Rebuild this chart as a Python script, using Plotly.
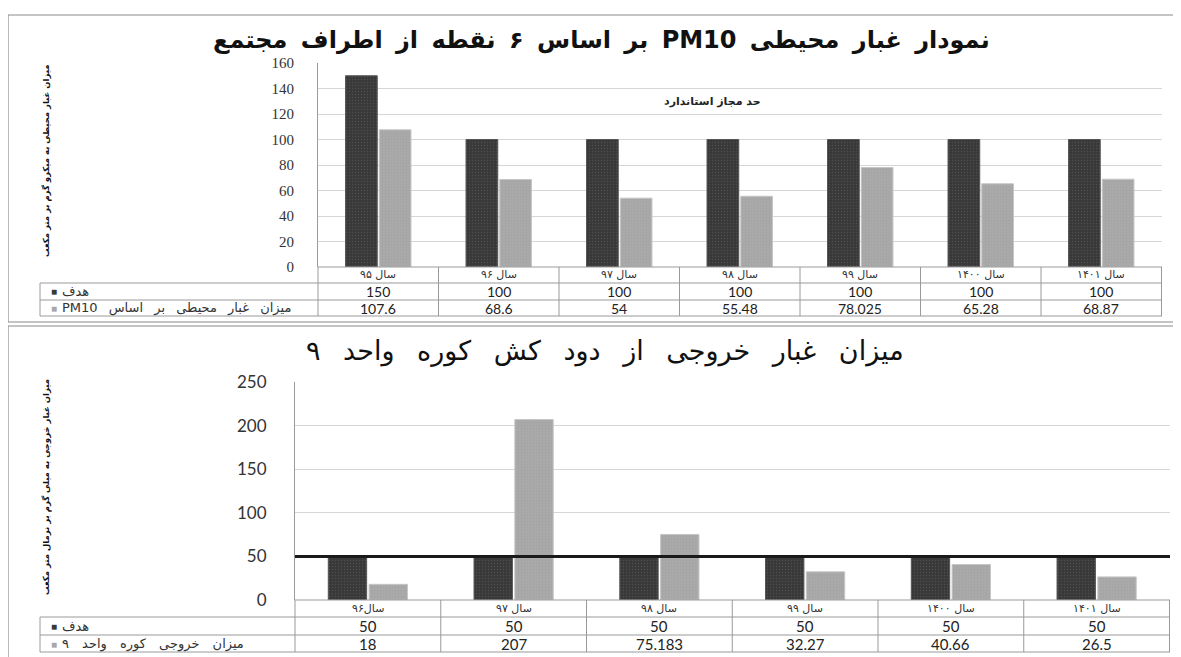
import plotly.graph_objects as go

W, H = 1181, 657
OFF = 8  # default page body margin
RLE, PDF = "\u202b", "\u202c"

# ---------------- data: top chart ----------------
top_title = "نمودار غبار محیطی PM10 بر اساس ۶ نقطه از اطراف مجتمع"
top_years = ["سال ۹۵", "سال ۹۶", "سال ۹۷", "سال ۹۸", "سال ۹۹", "سال ۱۴۰۰", "سال ۱۴۰۱"]
top_target = [150, 100, 100, 100, 100, 100, 100]
top_pm10 = [107.6, 68.6, 54, 55.48, 78.025, 65.28, 68.87]
top_target_name = "هدف"
top_pm10_name = "میزان غبار محیطی بر اساس PM10"
top_ytitle = "میزان غبار محیطی به میکرو گرم بر متر مکعب"
top_note = "حد مجاز استاندارد"
top_note_value = 130
top_yticks = [0, 20, 40, 60, 80, 100, 120, 140, 160]

# ---------------- data: bottom chart ----------------
bot_title = "میزان غبار خروجی از دود کش کوره واحد ۹"
bot_years = ["سال۹۶", "سال ۹۷", "سال ۹۸", "سال ۹۹", "سال ۱۴۰۰", "سال ۱۴۰۱"]
bot_target = [50, 50, 50, 50, 50, 50]
bot_unit9 = [18, 207, 75.183, 32.27, 40.66, 26.5]
bot_target_name = "هدف"
bot_unit9_name = "میزان خروجی کوره واحد ۹"
bot_ytitle = "میزان غبار خروجی به میلی گرم بر نرمال متر مکعب"
bot_yticks = [0, 50, 100, 150, 200, 250]

DARK = "#393939"
LIGHT = "#a9a9a9"
GRID = "#d6d6d6"
LINE = "#9a9a9a"
AR_FONT = "DejaVu Sans"


def px(x):
    return (x - OFF) / W


def py(y):
    return 1 - (y - OFF) / H


def rtl(s, spacing=0):
    t = RLE + s + PDF
    if spacing:
        t = '<span style="word-spacing:%dpx">%s</span>' % (spacing, t)
    return t


def fmt(v):
    return str(v)


def bar_marker(color, edge, grain):
    return dict(color=color, line=dict(color=edge, width=1),
                pattern=dict(shape=".", size=3, solidity=0.15, fgcolor=grain))


fig = go.Figure()
fig.add_trace(go.Bar(x=top_years, y=top_target, name=top_target_name, xaxis="x", yaxis="y",
                     marker=bar_marker(DARK, "#555", "#666"), showlegend=False))
fig.add_trace(go.Bar(x=top_years, y=top_pm10, name=top_pm10_name, xaxis="x", yaxis="y",
                     marker=bar_marker(LIGHT, "#c6c6c6", "#999"), showlegend=False))
fig.add_trace(go.Bar(x=bot_years, y=bot_target, name=bot_target_name, xaxis="x2", yaxis="y2",
                     marker=bar_marker(DARK, "#555", "#666"), showlegend=False))
fig.add_trace(go.Bar(x=bot_years, y=bot_unit9, name=bot_unit9_name, xaxis="x2", yaxis="y2",
                     marker=bar_marker(LIGHT, "#c6c6c6", "#999"), showlegend=False))

# ---------------- geometry (pixels in the screenshot) ----------------
T = dict(x0=318, x1=1162, ytop=63, ybase=267, rows=[283, 300, 316], left=40)
B = dict(x0=295, x1=1170, ytop=382, ybase=600, rows=[617, 635, 652], left=40)

fig.update_layout(
    width=W, height=H,
    margin=dict(l=0, r=0, t=0, b=0, autoexpand=False),
    paper_bgcolor="white", plot_bgcolor="white",
    barmode="group", bargap=0.44, bargroupgap=0.06,
    font=dict(family="Lato", color="#222"),
    xaxis=dict(domain=[px(T["x0"]), px(T["x1"])], anchor="y", showticklabels=False,
               showgrid=False, zeroline=False, showline=False, ticks="", automargin=False),
    yaxis=dict(domain=[py(T["ybase"]), py(T["ytop"])], anchor="x", range=[0, 160],
               tickvals=top_yticks, showgrid=True, gridcolor=GRID, zeroline=False,
               showline=True, linecolor=LINE, linewidth=1, ticks="", automargin=False,
               ticklabelstandoff=20,
               tickfont=dict(family="Liberation Serif", size=15, color="#333")),
    xaxis2=dict(domain=[px(B["x0"]), px(B["x1"])], anchor="y2", showticklabels=False,
                showgrid=False, zeroline=False, showline=False, ticks="", automargin=False),
    yaxis2=dict(domain=[py(B["ybase"]), py(B["ytop"])], anchor="x2", range=[0, 250],
                tickvals=bot_yticks, showgrid=True, gridcolor=GRID, zeroline=False,
                showline=True, linecolor=LINE, linewidth=1, ticks="", automargin=False,
                ticklabelstandoff=24,
                tickfont=dict(family="Lato", size=17, color="#333")),
)

shapes = []
ann = []


def hline(x0, x1, y, color=LINE, width=1):
    shapes.append(dict(type="line", xref="paper", yref="paper", x0=px(x0), x1=px(x1),
                       y0=py(y), y1=py(y), line=dict(color=color, width=width)))


def vline(x, y0, y1, color=LINE, width=1):
    shapes.append(dict(type="line", xref="paper", yref="paper", x0=px(x), x1=px(x),
                       y0=py(y0), y1=py(y1), line=dict(color=color, width=width)))


# frames
shapes.append(dict(type="rect", xref="paper", yref="paper", x0=px(8), x1=px(1176),
                   y0=py(322), y1=py(15), line=dict(color="#8a8a8a", width=1.2)))
shapes.append(dict(type="rect", xref="paper", yref="paper", x0=px(8), x1=px(1176),
                   y0=py(670), y1=py(326), line=dict(color="#8a8a8a", width=1.2)))


def table(cfg, xa, cats, s1, s2, name1, name2, fsize, sp2):
    r1, r2, r3 = cfg["rows"]
    hline(cfg["x0"], cfg["x1"], cfg["ybase"])
    for yy in (r1, r2, r3):
        hline(cfg["left"], cfg["x1"], yy)
    vline(cfg["left"], r1, r3)
    vline(cfg["x0"], cfg["ybase"], r3)
    for i in range(len(cats)):
        shapes.append(dict(type="line", xref=xa, yref="paper", x0=i + 0.5, x1=i + 0.5,
                           y0=py(cfg["ybase"]), y1=py(r3), line=dict(color=LINE, width=1)))
    c0 = (cfg["ybase"] + r1) / 2
    c1 = (r1 + r2) / 2
    c2 = (r2 + r3) / 2
    for i, c in enumerate(cats):
        ann.append(dict(x=c, y=py(c0), xref=xa, yref="paper", text=c, showarrow=False,
                        font=dict(family=AR_FONT, size=11, color="#333"), yanchor="middle"))
        ann.append(dict(x=c, y=py(c1), xref=xa, yref="paper", text=fmt(s1[i]), showarrow=False,
                        font=dict(family="Lato", size=fsize, color="#222"), yanchor="middle"))
        ann.append(dict(x=c, y=py(c2), xref=xa, yref="paper", text=fmt(s2[i]), showarrow=False,
                        font=dict(family="Lato", size=fsize, color="#222"), yanchor="middle"))
    for yy, color, label, sp in ((c1, DARK, name1, 0), (c2, LIGHT, name2, sp2)):
        ann.append(dict(x=px(cfg["left"] + 9), y=py(yy), xref="paper", yref="paper", text="■",
                        showarrow=False, xanchor="left", yanchor="middle",
                        font=dict(size=10, color=color)))
        ann.append(dict(x=px(cfg["left"] + 20), y=py(yy), xref="paper", yref="paper",
                        text=rtl(label, sp), showarrow=False, xanchor="left", yanchor="middle",
                        font=dict(family=AR_FONT, size=13, color="#333")))


table(T, "x", top_years, top_target, top_pm10, top_target_name, top_pm10_name, 14, 7)
table(B, "x2", bot_years, bot_target, bot_unit9, bot_target_name, bot_unit9_name, 15, 9)

# target line on the bottom chart
shapes.append(dict(type="line", xref="paper", yref="y2", x0=px(B["x0"]), x1=px(B["x1"]),
                   y0=bot_target[0], y1=bot_target[-1], line=dict(color="#1a1a1a", width=3)))

# titles
ann.append(dict(x=px(601), y=py(40), xref="paper", yref="paper",
                text="<b>" + rtl(top_title, 5) + "</b>",
                showarrow=False, font=dict(family=AR_FONT, size=24, color="#111"),
                xanchor="center", yanchor="middle"))
ann.append(dict(x=px(605), y=py(351), xref="paper", yref="paper", text=rtl(bot_title, 14),
                showarrow=False, font=dict(family=AR_FONT, size=27, color="#111"),
                xanchor="center", yanchor="middle"))
# note
ann.append(dict(x=px(712), y=top_note_value, xref="paper", yref="y",
                text="<b>" + rtl(top_note) + "</b>",
                showarrow=False, font=dict(family=AR_FONT, size=11, color="#222"),
                xanchor="center", yanchor="middle"))
# y axis titles
ann.append(dict(x=px(46), y=py(160), xref="paper", yref="paper",
                text="<b>" + rtl(top_ytitle) + "</b>",
                textangle=-90, showarrow=False, font=dict(family=AR_FONT, size=8.5, color="#111"),
                xanchor="center", yanchor="middle"))
ann.append(dict(x=px(46), y=py(487), xref="paper", yref="paper",
                text="<b>" + rtl(bot_ytitle) + "</b>",
                textangle=-90, showarrow=False, font=dict(family=AR_FONT, size=8.5, color="#111"),
                xanchor="center", yanchor="middle"))

fig.update_layout(shapes=shapes, annotations=ann)
fig.write_html("out.html")
